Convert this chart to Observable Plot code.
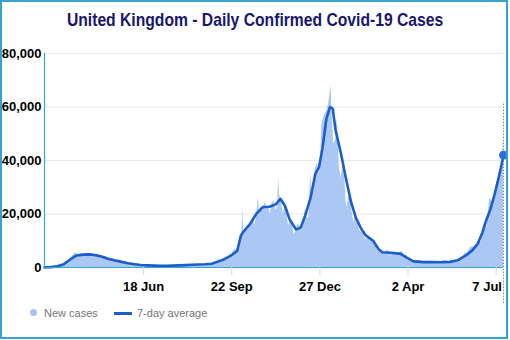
<!DOCTYPE html>
<html><head><meta charset="utf-8">
<script src="https://cdn.jsdelivr.net/npm/d3@7"></script>
<script src="https://cdn.jsdelivr.net/npm/@observablehq/plot@0.6"></script>
<style>
body{margin:0;background:#fff;}
#wrap{position:relative;width:510px;height:340px;overflow:hidden;font-family:"Liberation Sans",Arial,sans-serif;background:#fff;}
#title{position:absolute;left:0;top:10px;width:510px;text-align:center;white-space:nowrap;}
#title span{display:inline-block;transform:scaleX(0.825);transform-origin:center;font-family:"Liberation Sans",Arial,sans-serif;font-weight:bold;font-size:19px;line-height:19px;color:#17176f;}
#chart{position:absolute;left:0;top:0;}
#border{position:absolute;left:0;top:0;width:508px;height:339px;box-sizing:border-box;border:2px solid #38a2cf;pointer-events:none;}
.lg{position:absolute;font-size:11px;line-height:14px;color:#767676;white-space:nowrap;}
#dot{position:absolute;left:30px;top:309px;width:7px;height:7px;border-radius:50%;background:#a9c4f0;}
#sw{position:absolute;left:114px;top:311.5px;width:18px;height:3px;background:#1c5ec9;}
</style></head>
<body>
<div id="wrap">
  <div id="chart"></div>
  <div id="title"><span>United Kingdom - Daily Confirmed Covid-19 Cases</span></div>
  <div id="dot"></div><div class="lg" style="left:44px;top:306px">New cases</div>
  <div id="sw"></div><div class="lg" style="left:137px;top:306px">7-day average</div>
  <div id="border"></div>
</div>
<script>
// 7-day average (thousands of cases)
const avgDates = ["2020-03-02","2020-03-09","2020-03-16","2020-03-23","2020-03-30","2020-04-06","2020-04-13","2020-04-20","2020-04-27","2020-05-04","2020-05-11","2020-05-18","2020-05-25","2020-06-01","2020-06-08","2020-06-15","2020-06-22","2020-06-29","2020-07-06","2020-07-13","2020-07-20","2020-07-27","2020-08-03","2020-08-10","2020-08-17","2020-08-24","2020-08-31","2020-09-07","2020-09-14","2020-09-21","2020-09-28","2020-10-02","2020-10-05","2020-10-12","2020-10-19","2020-10-26","2020-11-02","2020-11-09","2020-11-14","2020-11-19","2020-11-24","2020-12-01","2020-12-06","2020-12-11","2020-12-17","2020-12-22","2020-12-26","2020-12-30","2021-01-03","2021-01-07","2021-01-10","2021-01-13","2021-01-19","2021-01-24","2021-01-30","2021-02-04","2021-02-10","2021-02-15","2021-02-23","2021-03-01","2021-03-05","2021-03-14","2021-03-25","2021-04-01","2021-04-08","2021-04-18","2021-04-28","2021-05-08","2021-05-18","2021-05-26","2021-06-04","2021-06-11","2021-06-17","2021-06-22","2021-06-26","2021-07-01","2021-07-05","2021-07-09","2021-07-12","2021-07-15"];
const avgValues = [0.05,0.15,0.5,1.2,3.0,4.5,4.8,4.9,4.6,4.0,3.2,2.6,2.1,1.6,1.2,0.95,0.8,0.7,0.65,0.65,0.7,0.8,0.9,1.0,1.1,1.2,1.4,2.2,3.1,4.4,6.3,12.0,13.5,16.3,20.2,22.6,22.7,23.6,25.7,23.0,18.0,14.2,14.9,19.4,26.3,35.0,37.5,45.0,55.5,60.0,59.4,51.5,42.5,33.8,24.4,18.8,14.5,12.0,10.0,6.8,5.7,5.5,5.1,3.6,2.3,2.0,2.0,1.95,2.1,2.7,4.5,6.4,8.9,13.0,17.5,22.0,27.0,32.5,37.0,42.0];

// Daily new cases (thousands), read at a few-day spacing
const caseDates = ["2020-03-02","2020-03-06","2020-03-10","2020-03-14","2020-03-18","2020-03-22","2020-03-26","2020-03-30","2020-04-02","2020-04-05","2020-04-08","2020-04-11","2020-04-14","2020-04-17","2020-04-20","2020-04-23","2020-04-26","2020-04-29","2020-05-02","2020-05-05","2020-05-08","2020-05-11","2020-05-14","2020-05-17","2020-05-20","2020-05-23","2020-05-26","2020-05-29","2020-06-01","2020-06-05","2020-06-09","2020-06-13","2020-06-17","2020-06-21","2020-06-25","2020-06-29","2020-07-03","2020-07-07","2020-07-11","2020-07-15","2020-07-19","2020-07-23","2020-07-27","2020-07-31","2020-08-04","2020-08-08","2020-08-12","2020-08-16","2020-08-20","2020-08-24","2020-08-28","2020-09-01","2020-09-04","2020-09-07","2020-09-10","2020-09-13","2020-09-16","2020-09-19","2020-09-22","2020-09-25","2020-09-28","2020-10-01","2020-10-03","2020-10-04","2020-10-05","2020-10-07","2020-10-09","2020-10-11","2020-10-13","2020-10-15","2020-10-17","2020-10-19","2020-10-21","2020-10-22","2020-10-24","2020-10-26","2020-10-28","2020-10-30","2020-11-01","2020-11-03","2020-11-05","2020-11-07","2020-11-09","2020-11-11","2020-11-12","2020-11-13","2020-11-15","2020-11-17","2020-11-19","2020-11-21","2020-11-23","2020-11-25","2020-11-27","2020-11-29","2020-12-01","2020-12-03","2020-12-05","2020-12-07","2020-12-09","2020-12-11","2020-12-13","2020-12-15","2020-12-17","2020-12-18","2020-12-20","2020-12-22","2020-12-24","2020-12-26","2020-12-28","2020-12-29","2020-12-31","2021-01-02","2021-01-04","2021-01-06","2021-01-08","2021-01-09","2021-01-11","2021-01-13","2021-01-15","2021-01-17","2021-01-19","2021-01-21","2021-01-23","2021-01-25","2021-01-27","2021-01-29","2021-01-31","2021-02-02","2021-02-04","2021-02-06","2021-02-08","2021-02-10","2021-02-12","2021-02-14","2021-02-16","2021-02-18","2021-02-20","2021-02-22","2021-02-24","2021-02-26","2021-02-28","2021-03-02","2021-03-04","2021-03-06","2021-03-08","2021-03-11","2021-03-14","2021-03-17","2021-03-20","2021-03-23","2021-03-26","2021-03-29","2021-04-01","2021-04-04","2021-04-07","2021-04-10","2021-04-13","2021-04-16","2021-04-19","2021-04-22","2021-04-25","2021-04-28","2021-05-01","2021-05-04","2021-05-07","2021-05-10","2021-05-13","2021-05-16","2021-05-19","2021-05-22","2021-05-25","2021-05-28","2021-05-31","2021-06-03","2021-06-06","2021-06-09","2021-06-12","2021-06-15","2021-06-18","2021-06-21","2021-06-24","2021-06-27","2021-06-30","2021-07-02","2021-07-04","2021-07-06","2021-07-08","2021-07-10","2021-07-12","2021-07-14","2021-07-15"];
const caseValues = [0.04,0.1,0.2,0.4,0.7,1.0,2.2,3.0,4.5,5.5,4.6,5.2,4.4,5.5,4.7,5.3,4.4,4.9,4.6,4.1,3.9,3.5,3.4,3.0,2.6,2.9,2.0,2.1,1.6,1.6,1.4,1.1,1.0,0.9,0.8,0.9,0.6,0.6,0.8,0.6,0.7,0.8,0.9,0.9,0.8,1.0,1.0,1.1,1.2,1.1,1.3,1.4,1.9,2.9,2.7,3.3,3.4,4.4,4.9,6.9,5.8,7.1,12.9,22.5,12.5,14.2,13.9,15.2,17.2,18.9,16.0,18.8,26.5,21.0,23.0,20.9,24.7,22.6,23.2,20.0,24.1,24.9,21.4,22.9,33.5,27.3,24.9,20.1,22.9,19.9,15.4,18.2,16.0,12.3,13.4,16.3,15.5,14.7,16.6,21.7,18.4,18.5,35.4,28.5,27.1,36.8,39.2,34.7,41.4,53.1,55.9,57.7,58.8,62.3,68.0,59.9,46.2,47.5,55.8,38.6,33.4,37.9,33.6,22.2,25.3,29.1,21.1,16.6,20.6,18.2,14.1,13.0,13.5,10.9,10.6,12.1,10.4,10.6,8.5,8.5,6.0,6.4,6.6,5.2,5.2,6.6,4.6,5.8,5.6,5.4,6.2,4.6,4.5,2.3,2.6,2.6,2.5,2.6,2.0,2.4,1.7,2.1,1.9,1.9,2.1,2.4,2.7,1.9,2.7,2.0,2.4,3.5,3.2,5.3,5.3,7.5,7.7,7.7,10.5,9.3,16.1,14.9,26.1,24.9,24.2,28.8,32.6,31.8,34.5,42.3,48.6];

const yTicks = [0,20,40,60,80];
const yTickLabels = ["0","20,000","40,000","60,000","80,000"];
const xTickDates = ["2020-06-18","2020-09-22","2020-12-27","2021-04-02","2021-07-07"];
const xTickLabels = ["18 Jun","22 Sep","27 Dec","2 Apr","7 Jul"];
const domainDates = ["2020-03-02","2021-07-15"];

const avg = avgDates.map((d,i)=>({date:new Date(d), value:avgValues[i]}));
const cases = caseDates.map((d,i)=>({date:new Date(d), value:caseValues[i]}));
const xTicks = xTickDates.map(d=>new Date(d));
const xLab = new Map(xTickDates.map((d,i)=>[+new Date(d), xTickLabels[i]]));
const yLab = new Map(yTicks.map((v,i)=>[v, yTickLabels[i]]));
const start = new Date(domainDates[0]), end = new Date(domainDates[1]);
const last = avg[avg.length-1];

const blueAxis = "#3aa3cf";
const chart = Plot.plot({
  width:510, height:340,
  marginLeft:44, marginRight:7, marginTop:53, marginBottom:73,
  style:{background:"transparent", fontFamily:"'Liberation Sans', Arial, sans-serif", overflow:"visible"},
  x:{type:"utc", domain:[start,end]},
  y:{domain:[0,80]},
  marks:[
    Plot.ruleY(yTicks.slice(1), {stroke:"#e8e8e8", strokeWidth:1}),
    Plot.areaY(cases, {x:"date", y:"value", fill:"#abc7f3", curve:"linear"}),
    Plot.ruleX([last], {x:"date", y1:-13.5, y2:61.7, stroke:"#8a8a8a", strokeWidth:1, strokeDasharray:"1.5,1.5"}),
    Plot.lineY(avg, {x:"date", y:"value", stroke:"#1c5ec9", strokeWidth:2.6, curve:"linear", strokeLinejoin:"round"}),
    Plot.dot([last], {x:"date", y:"value", r:4.5, fill:"#2c6fdc", stroke:"none"}),
    Plot.ruleY([0], {stroke:blueAxis, strokeWidth:1.2}),
    Plot.ruleX([start], {y1:0, y2:80, stroke:blueAxis, strokeWidth:1.2}),
    Plot.axisY(yTicks, {tickSize:0, tickPadding:3, tickFormat:v=>yLab.get(v), fontWeight:"bold", fontSize:13, fill:"#000", label:null}),
    Plot.axisX(xTicks, {tickSize:8, stroke:"#d8d8d8", tickFormat:()=>"", label:null}),
    Plot.axisX(xTicks.slice(0,4), {tickSize:0, tickPadding:14, tickFormat:d=>xLab.get(+d), fontWeight:"bold", fontSize:13, fill:"#000", label:null}),
    Plot.axisX(xTicks.slice(4), {tickSize:0, tickPadding:14, tickFormat:d=>xLab.get(+d), fontWeight:"bold", fontSize:13, fill:"#000", dx:-9, label:null})
  ]
});
document.getElementById("chart").appendChild(chart);
</script>
</body></html>
